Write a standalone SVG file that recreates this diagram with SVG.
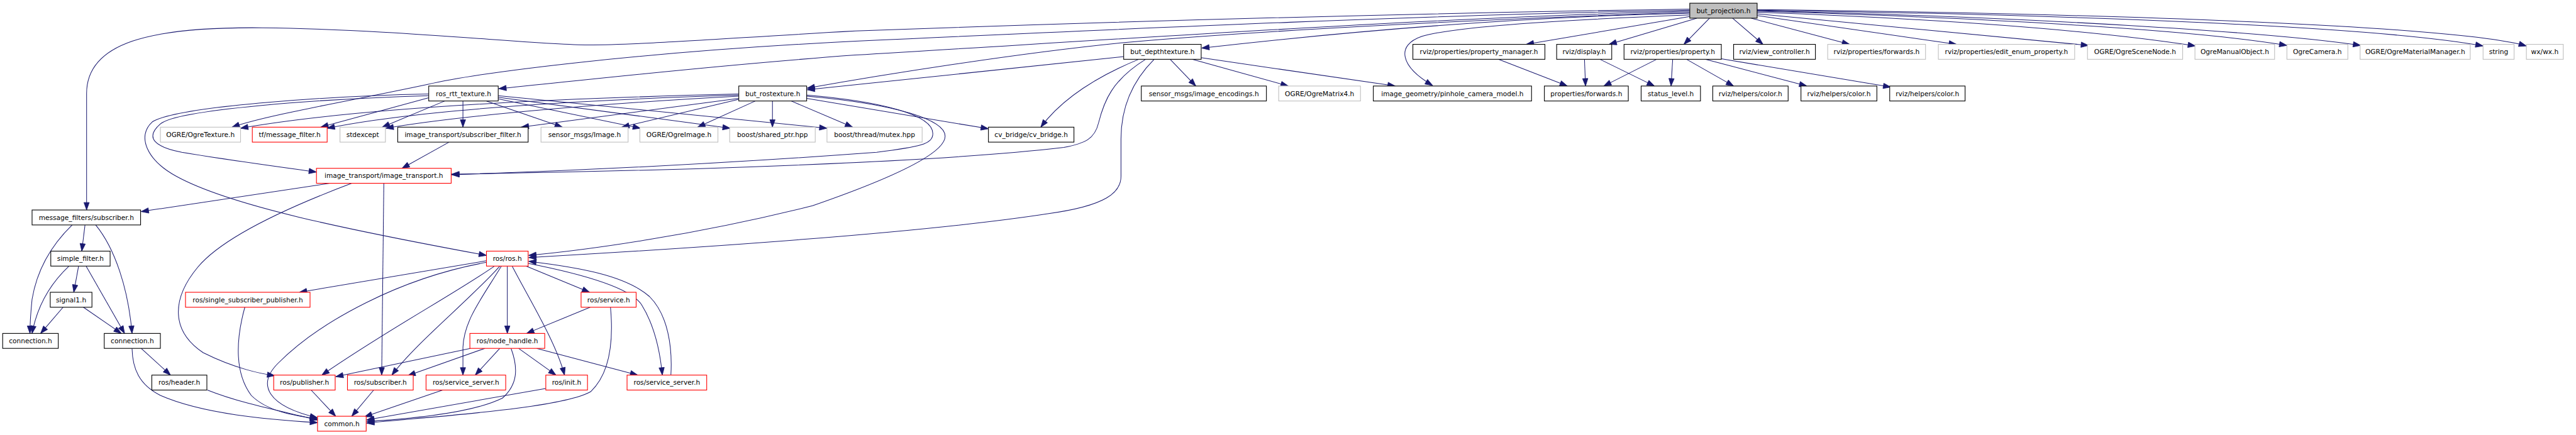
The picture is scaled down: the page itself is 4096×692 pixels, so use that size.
<svg xmlns="http://www.w3.org/2000/svg" width="4096" height="692" viewBox="0 0 4096 692">
<defs>
<marker id="a" markerUnits="userSpaceOnUse" markerWidth="16" markerHeight="12" refX="14" refY="5" orient="auto" overflow="visible"><path d="M0,0 L14,5 L0,10 z" fill="#191970" stroke="#191970" stroke-width="1"/></marker>
</defs>
<style>
.n rect{fill:#fff;stroke:#000;stroke-width:1.3}
.n.g rect{stroke:#bfbfbf}
.n.r rect{stroke:#ff0000}
.n.root rect{fill:#bfbfbf}
.n text{font-family:"DejaVu Sans","Liberation Sans",sans-serif;font-size:12.5px;text-anchor:middle;fill:#000}
#edges path{fill:none;stroke:#191970;stroke-width:1.2;marker-end:url(#a)}
</style>
<rect x="0" y="0" width="4096" height="692" fill="#fff"/>
<g transform="scale(0.85)">
<g id="edges">
<path d="M3161,17 C2700,24 2150,38 1600,58 C1350,72 1200,84 1100,84 C1000,84 750,55 490,52 C280,50 162,80 162,175 L162,393"/>
<path d="M3161,19 C2700,27 2150,52 1600,77 C1200,97 900,135 800,158 C650,190 500,215 434,238"/>
<path d="M3161,21 C2700,32 2150,70 1600,103 C1300,125 1050,155 933,166"/>
<path d="M3161,23 C2700,38 2300,62 2100,80 C1900,100 1650,140 1510,165"/>
<path d="M3161,25 C2900,30 2600,50 2248,90"/>
<path d="M3161,28 C2900,38 2720,50 2660,68 C2610,85 2620,125 2680,160"/>
<path d="M3161,31 L2855,83"/>
<path d="M3174,34 L3010,83"/>
<path d="M3198,34 L3150,83"/>
<path d="M3241,34 L3298,83"/>
<path d="M3276,34 L3460,83"/>
<path d="M3287,29 L3660,83"/>
<path d="M3287,26 L3907,85"/>
<path d="M3287,23 C3700,38 3950,62 4107,86"/>
<path d="M3287,21 C3700,33 4100,55 4278,85"/>
<path d="M3287,20 C3800,32 4250,60 4416,85"/>
<path d="M3287,19 C3900,28 4450,50 4645,86"/>
<path d="M3287,18 C4000,26 4600,50 4726,86"/>
<path d="M2803,111 L2932,161"/>
<path d="M2964,111 L2966,161"/>
<path d="M2993,111 L3095,161"/>
<path d="M3099,111 L3000,161"/>
<path d="M3129,111 L3126,161"/>
<path d="M3155,111 L3243,161"/>
<path d="M3190,111 L3380,161"/>
<path d="M3220,110 L3537,163"/>
<path d="M2102,106 L1510,168"/>
<path d="M2130,111 C2060,140 1990,180 1947,238"/>
<path d="M2143,111 C2080,150 2065,190 2055,230 C2048,260 2030,268 1990,276 C1700,310 1100,322 845,326"/>
<path d="M2159,111 C2120,150 2097,200 2097,260 L2097,330 C2097,360 2070,385 1960,400 C1700,440 1200,470 989,482"/>
<path d="M2189,111 L2237,161"/>
<path d="M2230,111 L2410,161"/>
<path d="M2247,108 L2610,161"/>
<path d="M802,183 L600,238"/>
<path d="M832,189 L715,238"/>
<path d="M866,189 L866,238"/>
<path d="M802,179 C600,185 330,205 300,232 C270,258 290,275 340,285 C430,300 520,312 592,322"/>
<path d="M802,176 C600,180 330,200 285,228 C255,255 275,300 330,330 C430,385 650,430 910,478"/>
<path d="M910,189 L1052,238"/>
<path d="M932,185 L1198,240"/>
<path d="M932,182 L1366,240"/>
<path d="M932,179 L1547,240"/>
<path d="M1382,176 C1000,185 650,205 450,240"/>
<path d="M1382,178 C1000,190 750,212 612,240"/>
<path d="M1382,180 C1100,195 850,218 722,240"/>
<path d="M1382,184 L975,238"/>
<path d="M1382,186 L1163,238"/>
<path d="M1413,189 L1305,238"/>
<path d="M1445,189 L1445,238"/>
<path d="M1480,189 L1595,238"/>
<path d="M1509,184 L1849,241"/>
<path d="M1509,178 C1650,190 1745,215 1745,250 C1745,270 1720,275 1640,285 C1300,310 1000,322 845,327"/>
<path d="M1509,180 C1680,195 1768,225 1768,255 C1768,290 1650,340 1520,385 C1300,440 1100,468 989,478"/>
<path d="M840,266 L752,315"/>
<path d="M617,343 L264,396"/>
<path d="M658,343 C560,380 420,440 370,500 C320,560 320,620 380,660 C440,690 490,700 514,703"/>
<path d="M718,343 L714,702"/>
<path d="M910,488 L560,547"/>
<path d="M910,491 C750,520 600,600 520,680 C480,720 500,760 594,782"/>
<path d="M925,498 C850,550 720,620 602,702"/>
<path d="M935,498 C880,560 780,640 733,702"/>
<path d="M938,498 C900,560 868,600 866,650 L866,702"/>
<path d="M949,498 L949,624"/>
<path d="M958,498 C990,560 1040,640 1056,702"/>
<path d="M984,498 L1103,547"/>
<path d="M988,493 C1100,515 1180,540 1200,570 C1225,610 1235,660 1239,702"/>
<path d="M1255,702 C1258,650 1250,590 1215,555 C1170,515 1080,500 989,489"/>
<path d="M1104,575 L985,624"/>
<path d="M1142,575 C1148,640 1140,700 1105,733 C1050,765 800,780 686,792"/>
<path d="M880,652 L628,705"/>
<path d="M907,652 L763,703"/>
<path d="M935,652 L889,702"/>
<path d="M970,652 L1040,702"/>
<path d="M1004,652 L1193,702"/>
<path d="M956,652 C970,690 968,720 940,745 C880,775 750,785 686,789"/>
<path d="M828,730 L682,780"/>
<path d="M1021,727 L686,786"/>
<path d="M458,575 C440,640 440,700 470,740 C500,770 550,778 594,784"/>
<path d="M582,730 L628,779"/>
<path d="M699,730 L658,779"/>
<path d="M388,730 C450,755 530,770 594,786"/>
<path d="M264,652 L319,702"/>
<path d="M247,652 C248,690 260,720 300,740 C380,775 500,785 594,791"/>
<path d="M135,421 C100,455 70,500 60,560 C57,590 56,610 56,624"/>
<path d="M159,421 L153,470"/>
<path d="M179,421 C215,465 240,540 247,624"/>
<path d="M147,498 L138,547"/>
<path d="M129,498 C95,530 70,570 60,624"/>
<path d="M161,498 L233,624"/>
<path d="M118,575 L76,624"/>
<path d="M156,575 L227,624"/>
</g>
<g id="n_root" class="n root"><rect x="3161" y="6" width="126" height="28"/><text x="3224" y="24.5">but_projection.h</text></g>
<g id="n_depth" class="n"><rect x="2102" y="83" width="145" height="28"/><text x="2174.5" y="101.5">but_depthtexture.h</text></g>
<g id="n_propmgr" class="n"><rect x="2643" y="83" width="247" height="28"/><text x="2766.5" y="101.5">rviz/properties/property_manager.h</text></g>
<g id="n_display" class="n"><rect x="2912" y="83" width="103" height="28"/><text x="2963.5" y="101.5">rviz/display.h</text></g>
<g id="n_property" class="n"><rect x="3038" y="83" width="182" height="28"/><text x="3129" y="101.5">rviz/properties/property.h</text></g>
<g id="n_viewctl" class="n"><rect x="3243" y="83" width="153" height="28"/><text x="3319.5" y="101.5">rviz/view_controller.h</text></g>
<g id="n_rforwards" class="n g"><rect x="3419" y="83" width="183" height="28"/><text x="3510.5" y="101.5">rviz/properties/forwards.h</text></g>
<g id="n_editenum" class="n g"><rect x="3626" y="83" width="255" height="28"/><text x="3753.5" y="101.5">rviz/properties/edit_enum_property.h</text></g>
<g id="n_scenenode" class="n g"><rect x="3905" y="83" width="178" height="28"/><text x="3994" y="101.5">OGRE/OgreSceneNode.h</text></g>
<g id="n_manual" class="n g"><rect x="4106" y="83" width="149" height="28"/><text x="4180.5" y="101.5">OgreManualObject.h</text></g>
<g id="n_camera" class="n g"><rect x="4278" y="83" width="114" height="28"/><text x="4335" y="101.5">OgreCamera.h</text></g>
<g id="n_material" class="n g"><rect x="4415" y="83" width="206" height="28"/><text x="4518" y="101.5">OGRE/OgreMaterialManager.h</text></g>
<g id="n_string" class="n g"><rect x="4645" y="83" width="58" height="28"/><text x="4674" y="101.5">string</text></g>
<g id="n_wx" class="n g"><rect x="4726" y="83" width="69" height="28"/><text x="4760.5" y="101.5">wx/wx.h</text></g>
<g id="n_rostt" class="n"><rect x="802" y="161" width="130" height="28"/><text x="867" y="179.5">ros_rtt_texture.h</text></g>
<g id="n_rostex" class="n"><rect x="1382" y="161" width="127" height="28"/><text x="1445.5" y="179.5">but_rostexture.h</text></g>
<g id="n_encodings" class="n"><rect x="2135" y="161" width="234" height="28"/><text x="2252" y="179.5">sensor_msgs/image_encodings.h</text></g>
<g id="n_matrix4" class="n g"><rect x="2392" y="161" width="153" height="28"/><text x="2468.5" y="179.5">OGRE/OgreMatrix4.h</text></g>
<g id="n_pinhole" class="n"><rect x="2569" y="161" width="296" height="28"/><text x="2717" y="179.5">image_geometry/pinhole_camera_model.h</text></g>
<g id="n_pforwards" class="n"><rect x="2889" y="161" width="157" height="28"/><text x="2967.5" y="179.5">properties/forwards.h</text></g>
<g id="n_status" class="n"><rect x="3070" y="161" width="111" height="28"/><text x="3125.5" y="179.5">status_level.h</text></g>
<g id="n_color1" class="n"><rect x="3204" y="161" width="141" height="28"/><text x="3274.5" y="179.5">rviz/helpers/color.h</text></g>
<g id="n_color2" class="n"><rect x="3369" y="161" width="142" height="28"/><text x="3440" y="179.5">rviz/helpers/color.h</text></g>
<g id="n_color3" class="n"><rect x="3535" y="161" width="141" height="28"/><text x="3605.5" y="179.5">rviz/helpers/color.h</text></g>
<g id="n_ogretex" class="n g"><rect x="300" y="238" width="150" height="28"/><text x="375" y="256.5">OGRE/OgreTexture.h</text></g>
<g id="n_tf" class="n r"><rect x="472" y="238" width="140" height="28"/><text x="542" y="256.5">tf/message_filter.h</text></g>
<g id="n_stdexcept" class="n g"><rect x="636" y="238" width="85" height="28"/><text x="678.5" y="256.5">stdexcept</text></g>
<g id="n_subfilter" class="n"><rect x="744" y="238" width="244" height="28"/><text x="866" y="256.5">image_transport/subscriber_filter.h</text></g>
<g id="n_sensorimg" class="n g"><rect x="1012" y="238" width="163" height="28"/><text x="1093.5" y="256.5">sensor_msgs/Image.h</text></g>
<g id="n_ogreimg" class="n g"><rect x="1197" y="238" width="146" height="28"/><text x="1270" y="256.5">OGRE/OgreImage.h</text></g>
<g id="n_sharedptr" class="n g"><rect x="1365" y="238" width="160" height="28"/><text x="1445" y="256.5">boost/shared_ptr.hpp</text></g>
<g id="n_mutex" class="n g"><rect x="1547" y="238" width="178" height="28"/><text x="1636" y="256.5">boost/thread/mutex.hpp</text></g>
<g id="n_cvbridge" class="n"><rect x="1849" y="238" width="160" height="28"/><text x="1929" y="256.5">cv_bridge/cv_bridge.h</text></g>
<g id="n_imgtransport" class="n r"><rect x="592" y="315" width="252" height="28"/><text x="718" y="333.5">image_transport/image_transport.h</text></g>
<g id="n_msgsub" class="n"><rect x="60" y="393" width="203" height="28"/><text x="161.5" y="411.5">message_filters/subscriber.h</text></g>
<g id="n_simple" class="n"><rect x="95" y="470" width="111" height="28"/><text x="150.5" y="488.5">simple_filter.h</text></g>
<g id="n_ros" class="n r"><rect x="910" y="470" width="78" height="28"/><text x="949" y="488.5">ros/ros.h</text></g>
<g id="n_signal1" class="n"><rect x="94" y="547" width="78" height="28"/><text x="133" y="565.5">signal1.h</text></g>
<g id="n_ssp" class="n r"><rect x="347" y="547" width="233" height="28"/><text x="463.5" y="565.5">ros/single_subscriber_publisher.h</text></g>
<g id="n_service" class="n r"><rect x="1087" y="547" width="103" height="28"/><text x="1138.5" y="565.5">ros/service.h</text></g>
<g id="n_conn1" class="n"><rect x="5" y="624" width="104" height="28"/><text x="57" y="642.5">connection.h</text></g>
<g id="n_conn2" class="n"><rect x="195" y="624" width="105" height="28"/><text x="247.5" y="642.5">connection.h</text></g>
<g id="n_nodehandle" class="n r"><rect x="879" y="624" width="140" height="28"/><text x="949" y="642.5">ros/node_handle.h</text></g>
<g id="n_header" class="n"><rect x="284" y="702" width="103" height="28"/><text x="335.5" y="720.5">ros/header.h</text></g>
<g id="n_publisher" class="n r"><rect x="512" y="702" width="115" height="28"/><text x="569.5" y="720.5">ros/publisher.h</text></g>
<g id="n_subscriber" class="n r"><rect x="650" y="702" width="123" height="28"/><text x="711.5" y="720.5">ros/subscriber.h</text></g>
<g id="n_ss1" class="n r"><rect x="797" y="702" width="149" height="28"/><text x="871.5" y="720.5">ros/service_server.h</text></g>
<g id="n_init" class="n r"><rect x="1021" y="702" width="78" height="28"/><text x="1060" y="720.5">ros/init.h</text></g>
<g id="n_ss2" class="n r"><rect x="1173" y="702" width="149" height="28"/><text x="1247.5" y="720.5">ros/service_server.h</text></g>
<g id="n_common" class="n r"><rect x="594" y="779" width="91" height="28"/><text x="639.5" y="797.5">common.h</text></g>
</g>
</svg>
